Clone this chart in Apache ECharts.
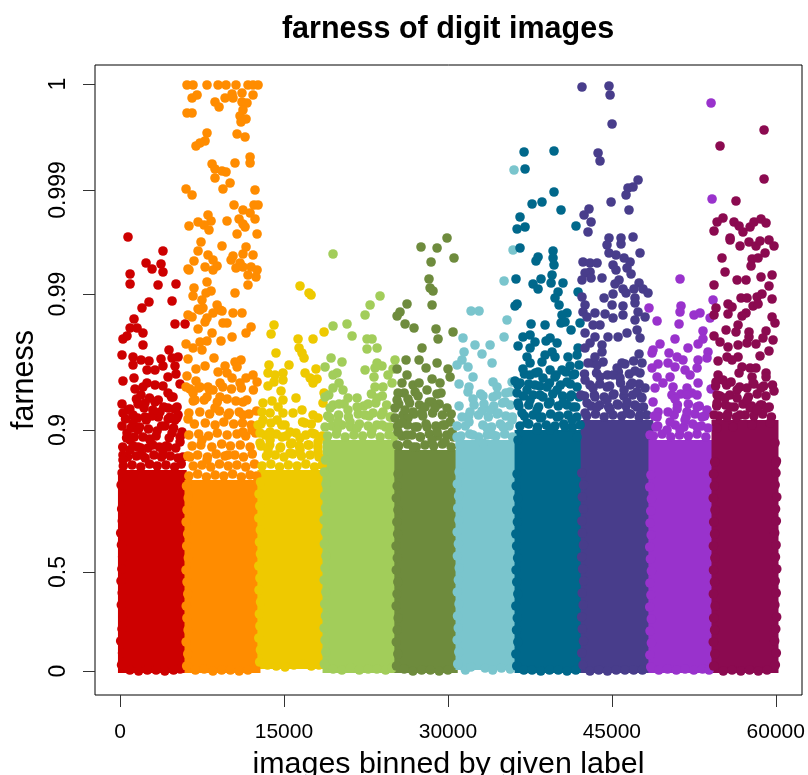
<!DOCTYPE html>
<html><head><meta charset="utf-8">
<style>html,body{margin:0;padding:0;background:#fff}#c{width:808px;height:775px}</style>
<script src="https://cdn.jsdelivr.net/npm/echarts@6/dist/echarts.min.js"></script></head>
<body><div id="c"></div>
<script>
const xTicks=[0,15000,30000,45000,60000];
// y axis is R's warped farness scale: position units per labelled tick
const yTicks=[0,99,241,377,481,587];
const yTickLabels=['0','0.5','0.9','0.99','0.999','1'];
const colors=['#CD0000','#FF8C00','#EEC900','#A2CD5A','#6E8B3D','#7AC5CD','#00688B','#483D8B','#9932CC','#8B0A50'];
// dense body of each digit: first image, last image, scaled farness reached solidly
const denseFrom=[-190,5900,12570,18530,25100,30700,36100,42150,48350,54120];
const denseTo=[6100,12850,18800,25350,30900,36400,42400,48800,54500,60250];
const denseTop=[201,191,201,231,221,231,241,251,231,251];
const denseBottom=[-2,-2,2,-2,-2,1,-2,-2,-2,-2];
const digit0=[[730,434],[3930,420],[2380,408],[2930,402],[3750,407],[3930,399],[920,397],[920,387],[3480,386],[5120,387],[2650,369],[4760,370],[2010,363],[1280,352],[920,343],[1560,343],[2100,338],[270,332],[640,335],[2100,326],[5030,347],[5950,347],[180,316],[1190,314],[1190,306],[1920,311],[2650,310],[4480,321],[3750,312],[4760,313],[5310,314],[5030,305],[3930,305],[2470,301],[3200,301],[5120,297],[270,290],[1280,293],[2470,288],[4390,294],[5490,287],[1370,282],[2100,284],[3200,286],[3930,285],[1920,276],[4390,278],[4850,274],[180,267],[1650,267],[2290,268],[3200,269],[5220,264],[730,261],[270,258],[1190,256],[3660,259],[4390,263],[2290,254],[2930,255],[5310,256],[4580,254],[5030,251],[1190,248],[180,245],[4120,245],[1650,241],[3390,240],[4760,238],[5670,239],[640,238],[920,231],[2100,234],[2750,231],[4390,224],[5490,229],[1650,224],[270,216],[920,221],[2560,223],[3930,218],[5760,214],[2010,216],[270,211]];
const digit1=[[6130,586],[6680,586],[7960,586],[8970,586],[9700,586],[10610,586],[11710,586],[12170,586],[12630,586],[6590,573],[7050,576],[8690,569],[9060,564],[9610,573],[10250,577],[10340,573],[11160,578],[11160,569],[11620,568],[12170,576],[11250,561],[10980,555],[11530,552],[11070,549],[6130,558],[6590,558],[7960,538],[10710,537],[11440,534],[7780,530],[7320,528],[6950,525],[11900,514],[11900,508],[10520,508],[8420,507],[8690,502],[9330,500],[9700,499],[8690,493],[10070,488],[9420,482],[6040,482],[6590,476],[12350,481],[10430,466],[11250,461],[11900,458],[12260,466],[12630,466],[12350,452],[8050,456],[8330,450],[7140,449],[7690,446],[8140,441],[6310,445],[9790,450],[10890,452],[11250,447],[11440,444],[10710,437],[12540,437],[7410,429],[9330,425],[7140,420],[6770,410],[8050,416],[8510,411],[8880,405],[7780,404],[8510,401],[6220,402],[6310,401],[11530,424],[11250,417],[10340,415],[10160,411],[12170,416],[10980,408],[10610,403],[11250,404],[11990,404],[12540,401],[11710,396],[12440,394],[7960,389],[11710,386],[6770,383],[10520,378],[8330,380],[7870,378],[6680,375],[7500,371],[8880,366],[7140,362],[7590,363],[9150,361],[10340,358],[11160,358],[7320,361],[6220,356],[7960,353],[6590,354],[8510,358],[9330,360],[7780,349],[9420,348],[9790,348],[7140,342],[11990,344],[11530,338],[10250,334],[8420,338],[6040,327],[7320,329],[7960,330],[9240,330],[6680,323],[7500,321],[8600,313],[6220,312],[11070,311],[10520,309],[7780,305],[6950,302],[10710,304],[9610,305],[8970,299],[9790,298],[6130,295],[6950,290],[10250,293],[12170,296],[11530,293],[9150,288],[6040,284],[7320,284],[12540,289],[8050,284],[6860,271],[10980,288],[11250,269],[7960,274],[9150,274],[12080,241],[6680,278],[8510,281],[11250,256],[8690,263],[9880,256],[7500,231],[6220,252],[11250,239],[6400,214],[9880,216],[7960,211]];
const digit2=[[16470,385],[17290,378],[17480,376],[14090,346],[13820,337],[16290,332],[17660,332],[18670,339],[16380,323],[16650,318],[16840,313],[14270,318],[13630,306],[15460,306],[17930,302],[16930,298],[13540,298],[14910,298],[14180,296],[17390,293],[18030,292],[17660,288],[14910,291],[14090,289],[13540,285],[14730,280],[18670,278],[18570,268],[16100,273],[14910,271],[13910,270],[13080,268],[14460,264],[12990,259],[16650,261],[15830,258],[14910,258],[13730,258],[17660,256],[16930,248],[18120,253],[13080,251],[14370,251],[15100,246],[12630,246],[15560,239],[17570,238],[13730,239],[12810,238],[14820,234],[16470,233],[18120,229],[13730,231],[15740,228],[17200,226],[12810,228],[14640,223],[16470,221],[18120,219],[13540,221],[15560,218]];
const digit3=[[19490,417],[23790,375],[22880,366],[22420,356],[20770,347],[19490,345],[21230,335],[22600,332],[23060,332],[22600,322],[23520,323],[19310,313],[20310,309],[18760,304],[22420,301],[23520,308],[23970,305],[25160,311],[24980,302],[23330,303],[19860,298],[19490,296],[24520,296],[23240,294],[20040,288],[19490,283],[20400,281],[23330,284],[24890,288],[24060,284],[18760,274],[20860,273],[21690,273],[23520,273],[20040,267],[22690,267],[21690,264],[19220,263],[20860,261],[24060,259],[23150,258],[22420,256],[19220,253],[21050,249],[24710,254],[19950,249],[18760,244],[21690,243],[23970,246],[23060,241],[19860,241],[24710,244]];
const digit4=[[29920,433],[27540,424],[29010,423],[30560,413],[28460,409],[28270,392],[28370,383],[28640,380],[28550,366],[26260,367],[25620,359],[25350,355],[26080,347],[26900,343],[28910,342],[30470,339],[29100,332],[27630,323],[26170,311],[27360,311],[29010,308],[25350,302],[28000,303],[30010,302],[30200,294],[26260,296],[28550,292],[25800,288],[26810,286],[27360,288],[29280,288],[25440,278],[28090,281],[27270,275],[29370,278],[26350,272],[28550,269],[25350,271],[25160,263],[29920,263],[26080,261],[27910,264],[28820,263],[26810,259],[25160,253],[30200,249],[27630,258],[26350,253],[29550,246],[25800,248],[28090,244],[26990,244],[25440,239],[30380,239],[29010,239],[26260,236],[27450,234],[25350,226],[28550,231],[29740,229],[26810,224]];
const digit5=[[36050,501],[35960,421],[35140,390],[32120,360],[32850,360],[35410,351],[35140,334],[31380,333],[32480,326],[33860,326],[31480,319],[33120,317],[31290,311],[30840,306],[34040,308],[31840,304],[32300,294],[31020,287],[34130,289],[34500,284],[31930,284],[31840,279],[35870,289],[35690,279],[33210,275],[32300,272],[34130,274],[31020,265],[33120,260],[32030,259],[35230,269],[31290,254],[33860,261],[31930,249],[35870,251],[34590,258],[30840,245],[33580,243],[32300,236],[30840,234],[35040,244],[34130,236],[31110,226],[33210,228]];
const digit6=[[36970,519],[39710,520],[37060,502],[39710,479],[38610,469],[37700,467],[40350,461],[36600,454],[37060,444],[36330,442],[41720,445],[36600,423],[39620,420],[38250,414],[38060,410],[39620,413],[39710,406],[39530,396],[36230,392],[38520,392],[37790,387],[38250,382],[39440,388],[40530,388],[40080,379],[39800,373],[40170,366],[36330,367],[36140,365],[41910,379],[40900,358],[40440,356],[40350,348],[40720,349],[37610,347],[38890,346],[42090,348],[41270,341],[36870,334],[37520,336],[39350,333],[38980,330],[36420,325],[37970,329],[37520,323],[39990,328],[39530,319],[39800,314],[41910,323],[38890,316],[40990,314],[37240,314],[38610,309],[41820,316],[37520,308],[41180,305],[42000,306],[36870,302],[40440,301],[38250,299],[39350,301],[41450,296],[37520,296],[36140,290],[38700,293],[39800,294],[36600,288],[39070,284],[40900,289],[37970,286],[41820,284],[37240,281],[36330,278],[39990,281],[38430,276],[41180,274],[36420,268],[37520,271],[39350,269],[40530,268],[41450,264],[36780,258],[38160,261],[39990,254],[38430,253],[41360,251],[37240,248],[40720,244],[39350,241],[38160,241],[36420,231],[41820,234]];
const digit7=[[42270,584],[44740,585],[44840,576],[45020,547],[43740,518],[43920,510],[47400,491],[46940,484],[46480,483],[46300,476],[44930,469],[46570,461],[42910,462],[42460,456],[43100,449],[42820,439],[44740,433],[45840,433],[45840,427],[46940,434],[44560,426],[44740,418],[45380,416],[47580,418],[46120,413],[46670,409],[42360,409],[43010,408],[43650,408],[45110,406],[45380,401],[46390,403],[46760,397],[43010,399],[42550,398],[42270,391],[43100,393],[44100,393],[45660,391],[45290,387],[47490,388],[46020,382],[46300,378],[47030,382],[47850,382],[48310,378],[42270,374],[45110,377],[44290,373],[47120,373],[47120,368],[42550,366],[45020,366],[46020,365],[43460,358],[42360,359],[44380,357],[45110,353],[46020,356],[47400,359],[48040,354],[42730,354],[47120,351],[43280,346],[43920,346],[42550,338],[43460,334],[44650,334],[45570,334],[46390,338],[47310,341],[47580,333],[43010,328],[44100,326],[42550,323],[44100,319],[47490,317],[47760,308],[43460,314],[42820,308],[43650,306],[45930,308],[45480,303],[47120,300],[47580,298],[45110,296],[42550,291],[43920,294],[45750,293],[46850,288],[43280,283],[44560,284],[48040,283],[46120,281],[42180,276],[47310,279],[45110,276],[43460,274],[47760,273],[46390,269],[44560,271],[42730,268],[45570,266],[47310,264],[43650,264],[44840,261],[42550,258],[46390,258],[47580,256]];
const digit8=[[54080,568],[54170,472],[51240,392],[54260,371],[48400,363],[51330,365],[51240,359],[52520,356],[53070,358],[53990,353],[49140,350],[51150,347],[53340,340],[50780,332],[53340,332],[52890,327],[49410,327],[48770,321],[51970,323],[53800,319],[50230,318],[48680,318],[50970,314],[52890,311],[53710,313],[51510,311],[50140,308],[49230,307],[48680,303],[50780,304],[51700,301],[52800,303],[49140,294],[50330,294],[52160,296],[49680,288],[48950,283],[50600,284],[52890,288],[51880,283],[54080,282],[51880,276],[52800,276],[50780,272],[48770,269],[49230,259],[50140,259],[50970,262],[49140,254],[52800,264],[51880,259],[53710,261],[49040,244],[50330,249],[51700,251],[53250,254],[48500,236],[50050,241],[52800,244],[51240,241]];
const digit9=[[58930,541],[54900,525],[58930,492],[56360,470],[55170,453],[54630,449],[54350,440],[56180,449],[56640,445],[57000,439],[57650,444],[58010,449],[58650,452],[59110,448],[55820,433],[55820,431],[56730,425],[57550,429],[58190,425],[58560,430],[59380,431],[59840,425],[55080,413],[57830,412],[58380,413],[59020,418],[57740,405],[55360,399],[56460,391],[57280,391],[58650,394],[59660,396],[54350,386],[59380,385],[56820,373],[57370,373],[58740,377],[58290,374],[59660,372],[55630,367],[56000,364],[57920,365],[58380,367],[54530,363],[54350,356],[55630,357],[57280,358],[56910,355],[59660,354],[59930,348],[56550,346],[56360,339],[55450,341],[54350,335],[57550,339],[57550,334],[59110,340],[58830,333],[59750,331],[54900,329],[55630,324],[56550,326],[57370,328],[58190,327],[59380,320],[58560,315],[56550,314],[55540,314],[54720,310],[56000,311],[56910,304],[56640,298],[57650,303],[58190,303],[59110,298],[59110,294],[54720,296],[54530,289],[55170,291],[55910,289],[57830,294],[57920,288],[58650,283],[59840,280],[57370,283],[56460,281],[54630,276],[55360,273],[56460,273],[57370,271],[58740,266],[59200,263],[54630,268],[57650,263],[55820,264],[54350,256],[58290,261],[56730,256],[55540,254],[59480,248],[57830,246],[54630,243],[56090,244],[59930,228],[60000,208]];
// outer points of the packed columns: left side, right side of the last digit, bottom row
const edge0=[[140,6],[230,18],[60,30],[180,42],[250,54],[120,66],[200,78],[90,90],[170,102],[240,114],[130,126],[60,138],[210,150],[150,162],[260,174],[100,186],[190,198],[900,1],[1700,0],[2500,1],[3300,1],[4100,0],[4900,1],[5500,2]];
const edge1=[[6100,5],[6200,17],[6050,29],[6230,41],[6120,53],[6060,65],[6200,77],[6130,89],[6040,101],[6250,113],[6100,125],[6190,137],[6050,149],[6130,161],[6240,173],[6080,185],[6900,1],[7700,2],[8500,0],[9300,1],[10100,1],[10900,0],[11700,1],[12400,3]];
const edge2=[[12780,9],[12850,21],[12700,33],[12800,45],[12750,57],[12860,69],[12720,81],[12800,93],[12700,105],[12850,117],[12760,129],[12840,141],[12700,153],[12790,165],[12720,177],[12860,189],[13500,6],[14300,5],[15100,4],[15900,6],[16700,7],[17500,5],[18200,6]];
const edge3=[[18700,7],[18830,19],[18760,31],[18680,43],[18800,55],[18730,67],[18830,79],[18680,91],[18760,103],[18840,115],[18700,127],[18790,139],[18680,151],[18800,163],[18730,175],[18850,187],[18700,199],[18800,211],[19500,2],[20300,1],[21100,3],[21900,1],[22700,2],[23500,2],[24300,1],[24900,3]];
const edge4=[[25300,5],[25420,17],[25280,29],[25360,41],[25450,53],[25270,65],[25350,77],[25420,89],[25280,101],[25370,113],[25260,125],[25400,137],[25330,149],[25430,161],[25280,173],[25360,185],[25440,197],[26000,2],[26800,0],[27600,1],[28400,1],[29200,0],[30000,1]];
const edge5=[[30900,7],[31000,19],[30850,31],[30950,43],[30880,55],[31020,67],[30860,79],[30960,91],[31040,103],[30870,115],[30960,127],[30850,139],[31020,151],[30900,163],[30980,175],[30860,187],[31030,199],[31600,1],[32100,4],[33400,3],[34100,1],[34900,3],[35700,2]];
const edge6=[[36300,5],[36220,17],[36400,29],[36280,41],[36350,53],[36220,65],[36400,77],[36300,89],[36240,101],[36380,113],[36290,125],[36220,137],[36360,149],[36300,161],[36400,173],[36250,185],[36330,197],[36950,1],[37700,1],[38500,0],[39300,1],[40100,1],[40900,0],[41700,1]];
const edge7=[[42370,6],[42250,18],[42400,30],[42300,42],[42240,54],[42380,66],[42290,78],[42420,90],[42330,102],[42240,114],[42400,126],[42300,138],[42260,150],[42390,162],[42300,174],[42420,186],[42250,198],[43000,0],[43800,1],[44600,0],[45400,1],[46200,1],[47000,1],[47800,1]];
const edge8=[[48560,4],[48480,16],[48620,28],[48500,40],[48610,52],[48470,64],[48580,76],[48490,88],[48620,100],[48530,112],[48470,124],[48600,136],[48500,148],[48560,160],[48620,172],[48470,184],[48580,196],[49300,1],[50100,2],[50900,1],[51700,2],[52500,1],[53300,2],[53900,1]];
const edge9=[[54320,5],[54420,17],[54280,29],[54400,41],[54320,53],[54450,65],[54290,77],[54390,89],[54300,101],[54430,113],[54290,125],[54400,137],[54320,149],[54440,161],[54280,173],[54380,185],[54300,197],[54410,209],[59960,6],[60050,18],[59900,30],[60000,42],[60080,54],[59920,66],[60040,78],[59950,90],[60090,102],[59970,114],[60030,126],[59900,138],[60050,150],[59980,162],[60090,174],[59940,186],[60020,198],[60060,210],[55200,0],[56000,1],[56800,0],[57600,1],[58400,0],[59200,1]];
// packed points just above each solid body, where the cloud thins out
const fill0=[[300,205],[1100,206],[1900,204],[2700,207],[3400,205],[4200,206],[5000,204],[5600,207],[700,214],[1500,215],[2300,213],[3100,216],[3800,214],[4600,215],[5300,213],[250,224],[1200,225],[1900,223],[3000,226],[3600,224],[4200,225],[5100,223],[600,233],[1300,234],[2700,232],[3300,235],[4500,233],[5500,234],[1000,243],[1800,244],[2600,242],[3800,245],[4900,243],[500,252],[1600,253],[2400,251],[3500,254],[4400,252],[5200,253],[900,262],[2200,263],[3000,261],[4000,264],[5000,262],[1500,272],[2700,273],[3500,271],[4700,274]];
const fill1=[[6300,195],[7100,197],[7900,194],[8700,196],[9500,195],[10300,197],[11100,194],[11900,196],[12500,195],[6700,205],[7500,206],[8300,204],[9100,207],[9900,205],[10700,206],[11500,204],[12300,207],[6200,215],[7100,216],[8000,214],[8800,217],[9600,215],[10500,216],[11300,214],[12100,217],[6600,225],[7400,226],[8400,224],[9300,227],[10100,225],[11000,226],[11900,224],[6300,236],[7200,237],[8100,235],[8900,238],[9800,236],[10700,237],[11500,235],[12400,238],[6800,247],[7800,248],[8700,246],[9500,249],[10400,247],[11200,248],[12000,246],[6300,258],[7300,259],[8200,257],[9100,260],[10000,258],[10900,259],[11800,257],[12500,260],[6700,270],[7700,271],[8900,269],[9800,272],[10600,270],[11600,271],[6400,282],[7200,283],[8200,281],[9400,284],[10200,282],[11100,283],[12200,281]];
const fill2=[[13000,205],[13800,207],[14600,204],[15400,206],[16200,205],[17000,207],[17800,204],[18500,206],[13400,215],[14200,216],[15000,214],[15800,217],[16600,215],[17400,216],[18200,214],[12900,225],[13700,226],[14700,224],[15600,227],[16400,225],[17300,226],[18100,224],[13300,236],[14300,237],[15200,235],[16100,238],[17000,236],[17800,237],[18500,235],[12900,247],[13800,248],[14800,246],[16700,249],[17500,247]];
const fill3=[[19000,235],[19800,237],[20600,234],[21400,236],[22200,235],[23000,237],[23800,234],[24600,236],[25100,235],[19400,245],[20300,246],[21100,244],[21900,247],[22700,245],[23500,246],[24300,244],[19000,255],[20000,256],[20900,254],[21800,257],[22800,255],[23900,256],[24800,254],[19500,266],[20500,267],[22300,265],[23400,268],[24400,266],[19100,276],[23000,277],[24000,275]];
const fill4=[[25500,225],[26300,227],[27100,224],[27900,226],[28700,225],[29500,227],[30300,224],[25800,235],[26700,236],[27500,234],[28300,237],[29100,235],[29900,236],[30500,234],[25400,245],[26300,246],[27200,244],[28000,247],[28900,245],[29700,246],[25900,256],[26900,257],[27700,255],[28600,258],[29500,256],[30300,257],[25500,267],[26500,268],[27400,266],[28300,269],[29200,267],[26000,278],[27000,279],[29000,277]];
const fill5=[[31200,235],[32000,237],[32800,234],[33600,236],[34400,235],[35200,237],[35900,234],[31600,245],[33200,246],[34000,244],[34800,247],[35600,245],[31900,255],[32800,256],[33700,254],[34500,257],[35300,255],[35900,254],[32400,266],[33300,267],[34200,265],[35000,268],[35700,266],[33000,277],[34500,276],[35300,278]];
const fill6=[[36600,245],[37400,247],[38200,244],[39000,246],[39800,245],[40600,247],[41400,244],[42100,246],[37000,255],[37800,256],[38600,254],[39400,257],[40200,255],[41000,256],[41800,254],[36500,265],[37400,266],[38300,264],[39200,267],[40100,265],[40900,266],[41700,264],[36900,275],[37800,276],[38700,274],[39600,277],[40500,275],[41300,276],[42000,274],[36400,286],[37400,287],[38400,285],[39300,288],[40300,286],[41200,287],[37000,297],[38000,298],[39900,296],[40800,299],[41600,297]];
const fill7=[[42700,255],[43500,257],[44300,254],[45100,256],[45900,255],[46700,257],[47500,254],[48200,256],[43100,265],[43900,266],[44700,264],[45500,267],[46300,265],[47100,266],[47900,264],[42500,275],[43400,276],[44300,274],[45200,277],[46100,275],[46900,276],[47700,274],[43000,286],[43900,287],[44800,285],[45800,288],[46700,286],[47500,287],[42500,297],[43600,298],[44600,296],[45600,299],[46600,297],[43200,308],[44200,309],[46200,307],[47000,310]];
const fill8=[[48800,235],[49600,237],[50400,234],[51200,236],[52000,235],[52800,237],[53600,234],[49200,245],[50800,246],[51600,244],[52400,247],[53200,245],[53800,243],[48900,255],[50700,256],[51800,254],[52600,257],[53500,255],[51000,266],[52000,267],[53000,265],[51300,277],[52300,278],[50500,276]];
const fill9=[[54800,255],[55600,257],[56400,254],[57200,256],[58000,255],[58800,257],[59600,254],[54600,265],[55400,266],[56200,264],[57000,267],[57800,265],[58600,266],[59400,264],[54900,275],[55800,276],[57500,274],[58300,277],[59100,275],[54500,285],[55500,286],[56700,284],[58000,287],[58900,285],[59700,286]];
const digitPoints=[digit0,digit1,digit2,digit3,digit4,digit5,digit6,digit7,digit8,digit9];
const digitEdges=[edge0,edge1,edge2,edge3,edge4,edge5,edge6,edge7,edge8,edge9];
const digitFill=[fill0,fill1,fill2,fill3,fill4,fill5,fill6,fill7,fill8,fill9];

const font='"Liberation Sans",Arial,sans-serif';
const series=[];
colors.forEach((color,i)=>{
  series.push({type:'custom',silent:true,clip:false,encode:{x:[0,1],y:[2,3]},
    data:[[denseFrom[i],denseTo[i],denseTop[i],denseBottom[i]]],
    renderItem:(p,api)=>{
      const a=api.coord([api.value(0),api.value(2)]),b=api.coord([api.value(1),api.value(3)]);
      return {type:'rect',shape:{x:a[0],y:a[1],width:b[0]-a[0],height:b[1]-a[1]},style:{fill:color}};
    }});
  series.push({type:'scatter',data:digitEdges[i].concat(digitFill[i],digitPoints[i]),symbol:'circle',symbolSize:9.6,silent:true,
    itemStyle:{color:color,opacity:1},clip:false,large:false,progressive:0});
});
const chart=echarts.init(document.getElementById('c'),null,{renderer:'canvas'});
chart.setOption({
  animation:false,backgroundColor:'#fff',
  title:{text:'farness of digit images',left:443,top:9,textAlign:'center',
    textStyle:{fontFamily:font,fontWeight:'bold',fontSize:30.5,color:'#000'}},
  grid:{left:95,right:6,top:65,bottom:80,outerBoundsMode:'none',show:true,borderColor:'#000',borderWidth:1,backgroundColor:'#fff'},
  xAxis:{type:'value',min:-2290,max:62400,splitLine:{show:false},
    axisLine:{show:false,onZero:false},
    axisTick:{show:true,length:12,customValues:xTicks,lineStyle:{color:'#333'}},
    axisLabel:{customValues:xTicks,margin:27,fontFamily:font,fontSize:21,color:'#000',formatter:v=>String(v),showMinLabel:true,showMaxLabel:true},
    name:'images binned by given label',nameLocation:'middle',nameGap:55,nameMoveOverlap:false,
    nameTextStyle:{fontFamily:font,fontSize:30.4,color:'#000'}},
  yAxis:{type:'value',min:-24,max:606,splitLine:{show:false},
    axisLine:{show:false,onZero:false},
    axisTick:{show:true,length:12,customValues:yTicks,lineStyle:{color:'#333'}},
    axisLabel:{customValues:yTicks,rotate:90,margin:25,fontFamily:font,fontSize:23,color:'#000',
      align:'center',verticalAlign:'bottom',
      formatter:v=>yTickLabels[yTicks.indexOf(v)]},
    name:'farness',nameLocation:'middle',nameGap:55,nameRotate:90,nameMoveOverlap:false,
    nameTextStyle:{fontFamily:font,fontSize:30.5,color:'#000'}},
  series:series
});
</script></body></html>
